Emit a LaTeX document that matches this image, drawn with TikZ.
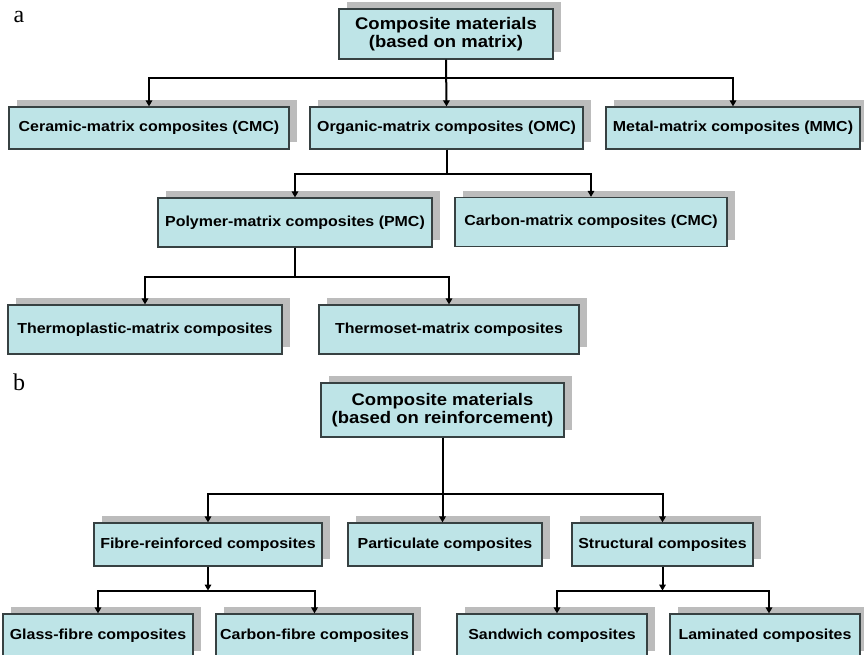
\documentclass[tikz,border=0pt]{standalone}
\usepackage{fontspec}
\setmainfont{Liberation Serif}
\setsansfont{Liberation Sans}[FakeStretch=1.1]
\usetikzlibrary{arrows.meta,shadows}
\definecolor{boxfill}{RGB}{190,228,231}
\definecolor{boxshade}{RGB}{188,188,188}
\definecolor{boxline}{RGB}{55,65,66}

\begin{document}
\begin{tikzpicture}[x=1pt,y=-1pt,
        box/.style={draw=boxline,line width=1.2pt,fill=boxfill,inner sep=0pt,
            font=\sffamily\bfseries\fontsize{14.5}{17}\selectfont,
            drop shadow={shadow xshift=8pt,shadow yshift=7pt,fill=boxshade,opacity=1}},
        rootbox/.style={box,align=center,font=\sffamily\bfseries\fontsize{16.8}{17.5}\selectfont},
        wh/.style 2 args={minimum width=#1,minimum height=#2},
        link/.style={line width=2pt,-{Triangle[length=6pt,width=6.5pt]}},
        tag/.style={font=\fontsize{24}{24}\selectfont}]
        \useasboundingbox (0,0) rectangle (864,654);
        \clip (0,0) rectangle (864,654);

        \node[tag] (taga) at (19,17) {a};
        \node[rootbox,wh={214pt}{50pt}] (roota) at (446,34) {Composite materials\\(based on matrix)};
        \node[box,wh={280pt}{42pt}] (cmc) at (149,128) {Ceramic-matrix composites (CMC)};
        \node[box,wh={273pt}{42pt}] (omc) at (446.5,128) {Organic-matrix composites (OMC)};
        \node[box,wh={254pt}{42pt}] (mmc) at (733,128) {Metal-matrix composites (MMC)};
        \node[box,wh={274pt}{49pt}] (pmc) at (295,222.5) {Polymer-matrix composites (PMC)};
        \node[box,wh={272pt}{49pt}] (camc) at (591,222) {Carbon-matrix composites (CMC)};
        \node[box,wh={274pt}{49pt}] (tpc) at (145,329.5) {Thermoplastic-matrix composites};
        \node[box,wh={260pt}{49pt}] (tsc) at (449,329.5) {Thermoset-matrix composites};

        \draw[link](roota.south)--++(0,18)-|(cmc.north);
        \draw[link](roota.south)--(omc.north);
        \draw[link](roota.south)--++(0,18)-|(mmc.north);
        \draw[link](omc.south)--++(0,24)-|(pmc.north);
        \draw[link](omc.south)--++(0,24)-|(camc.north);
        \draw[link](pmc.south)--++(0,29)-|(tpc.north);
        \draw[link](pmc.south)--++(0,29)-|(tsc.north);

        \node[tag] (tagb) at (19,382) {b};
        \node[rootbox,wh={243pt}{54pt}] (rootb) at (442.5,410) {Composite materials\\(based on reinforcement)};
        \node[box,wh={228pt}{43pt}] (frc) at (208,544.5) {Fibre-reinforced composites};
        \node[box,wh={194pt}{43pt}] (pc) at (445,544.5) {Particulate composites};
        \node[box,wh={181pt}{43pt}] (sc) at (662.5,544.5) {Structural composites};
        \node[box,wh={190pt}{44pt}] (gfc) at (98,636) {Glass-fibre composites};
        \node[box,wh={197pt}{44pt}] (cfc) at (314.5,636) {Carbon-fibre composites};
        \node[box,wh={190pt}{44pt}] (swc) at (552,636) {Sandwich composites};
        \node[box,wh={190pt}{44pt}] (lmc) at (765,636) {Laminated composites};

        \draw[link](rootb.south)--++(0,56)-|(frc.north);
        \draw[link](rootb.south)--(rootb.south|-pc.north);
        \draw[link](rootb.south)--++(0,56)-|(sc.north);
        \draw[link](frc.south)--++(0,24)coordinate(busf);
        \draw[link](busf)-|(gfc.north);
        \draw[link](busf)-|(cfc.north);
        \draw[link](sc.south)--++(0,24)coordinate(buss);
        \draw[link](buss)-|([xshift=5pt]swc.north);
        \draw[link](buss)-|([xshift=4pt]lmc.north);
\end{tikzpicture}
\end{document}
